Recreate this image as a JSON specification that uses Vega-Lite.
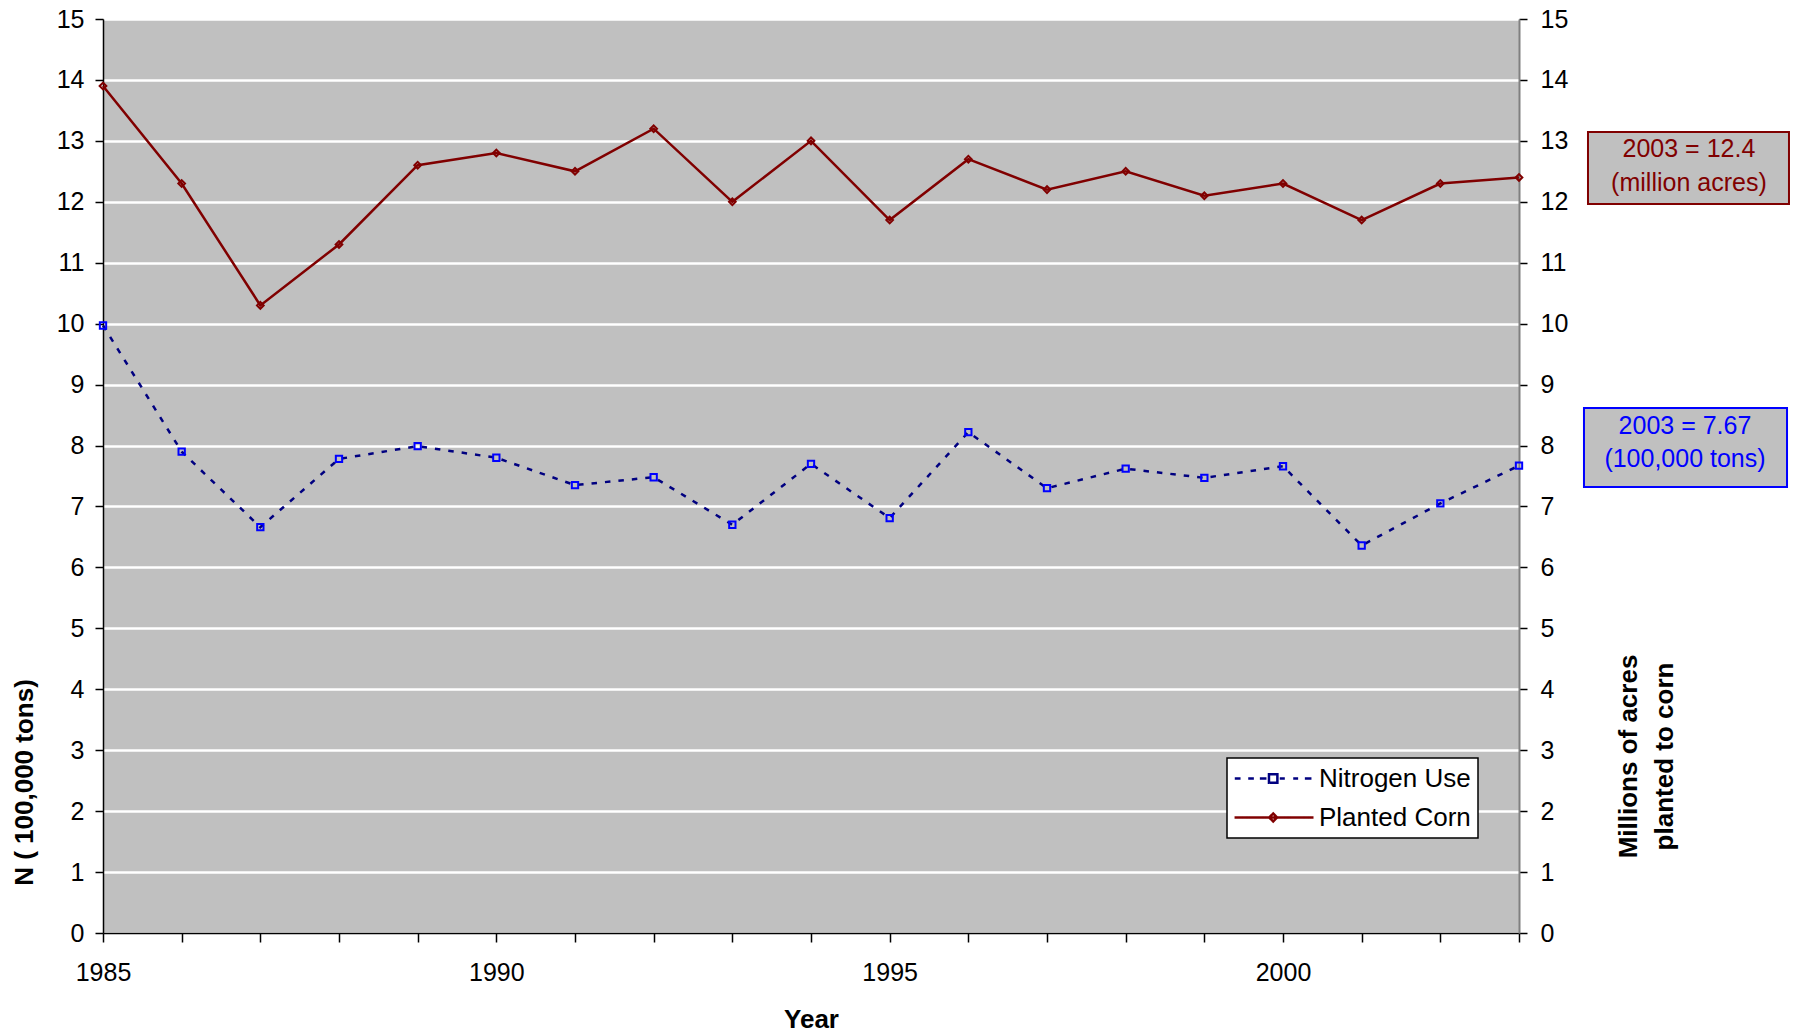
{
  "$schema": "https://vega.github.io/schema/vega-lite/v6.json",
  "width": 1416,
  "height": 914,
  "autosize": "none",
  "padding": {"left": 103, "top": 19, "right": 278, "bottom": 99},
  "background": "white",
  "config": {
    "font": "Liberation Sans",
    "view": {"fill": "#C0C0C0", "stroke": null}
  },
  "datasets": {
    "main": [
      {"year": 1985, "series": "Nitrogen Use", "value": 9.97},
      {"year": 1986, "series": "Nitrogen Use", "value": 7.9},
      {"year": 1987, "series": "Nitrogen Use", "value": 6.66},
      {"year": 1988, "series": "Nitrogen Use", "value": 7.78},
      {"year": 1989, "series": "Nitrogen Use", "value": 7.99},
      {"year": 1990, "series": "Nitrogen Use", "value": 7.8},
      {"year": 1991, "series": "Nitrogen Use", "value": 7.35},
      {"year": 1992, "series": "Nitrogen Use", "value": 7.48},
      {"year": 1993, "series": "Nitrogen Use", "value": 6.7},
      {"year": 1994, "series": "Nitrogen Use", "value": 7.7},
      {"year": 1995, "series": "Nitrogen Use", "value": 6.81},
      {"year": 1996, "series": "Nitrogen Use", "value": 8.22},
      {"year": 1997, "series": "Nitrogen Use", "value": 7.3},
      {"year": 1998, "series": "Nitrogen Use", "value": 7.62},
      {"year": 1999, "series": "Nitrogen Use", "value": 7.47},
      {"year": 2000, "series": "Nitrogen Use", "value": 7.66},
      {"year": 2001, "series": "Nitrogen Use", "value": 6.36},
      {"year": 2002, "series": "Nitrogen Use", "value": 7.05},
      {"year": 2003, "series": "Nitrogen Use", "value": 7.67},
      {"year": 1985, "series": "Planted Corn", "value": 13.9},
      {"year": 1986, "series": "Planted Corn", "value": 12.3},
      {"year": 1987, "series": "Planted Corn", "value": 10.3},
      {"year": 1988, "series": "Planted Corn", "value": 11.3},
      {"year": 1989, "series": "Planted Corn", "value": 12.6},
      {"year": 1990, "series": "Planted Corn", "value": 12.8},
      {"year": 1991, "series": "Planted Corn", "value": 12.5},
      {"year": 1992, "series": "Planted Corn", "value": 13.2},
      {"year": 1993, "series": "Planted Corn", "value": 12.0},
      {"year": 1994, "series": "Planted Corn", "value": 13.0},
      {"year": 1995, "series": "Planted Corn", "value": 11.7},
      {"year": 1996, "series": "Planted Corn", "value": 12.7},
      {"year": 1997, "series": "Planted Corn", "value": 12.2},
      {"year": 1998, "series": "Planted Corn", "value": 12.5},
      {"year": 1999, "series": "Planted Corn", "value": 12.1},
      {"year": 2000, "series": "Planted Corn", "value": 12.3},
      {"year": 2001, "series": "Planted Corn", "value": 11.7},
      {"year": 2002, "series": "Planted Corn", "value": 12.3},
      {"year": 2003, "series": "Planted Corn", "value": 12.4}
    ],
    "cornNote": [
      {"year": 2003.877, "year_end": 2006.432, "value": 13.145, "value_end": 11.964}
    ],
    "cornNoteText": [
      {"year": 2005.16, "value": 12.866, "label": "2003 = 12.4\n(million acres)"}
    ],
    "nitroNote": [
      {"year": 2003.826, "year_end": 2006.407, "value": 8.616, "value_end": 7.319}
    ],
    "nitroNoteText": [
      {"year": 2005.11, "value": 8.32, "label": "2003 = 7.67\n(100,000 tons)"}
    ]
  },
  "encoding": {
    "x": {
      "field": "year",
      "type": "quantitative",
      "scale": {"domain": [1985, 2003], "nice": false, "zero": false},
      "axis": {
        "title": "Year",
        "values": [1985, 1986, 1987, 1988, 1989, 1990, 1991, 1992, 1993, 1994, 1995, 1996, 1997, 1998, 1999, 2000, 2001, 2002, 2003],
        "format": "d",
        "labelExpr": "datum.value % 5 === 0 ? datum.label : ''",
        "labelOverlap": false,
        "labelFlush": false,
        "labelFontSize": 25,
        "labelColor": "black",
        "labelPadding": 18,
        "tickSize": 9,
        "tickColor": "black",
        "tickWidth": 1.5,
        "domainColor": "black",
        "domainWidth": 1.5,
        "grid": false,
        "titleFontSize": 26,
        "titleFontWeight": "bold",
        "titleColor": "black",
        "titleX": 708,
        "titleY": 94,
        "titleAlign": "center",
        "titleBaseline": "alphabetic"
      }
    }
  },
  "layer": [
    {
      "encoding": {
        "y": {
          "field": "value",
          "type": "quantitative",
          "scale": {"domain": [0, 15], "nice": false, "zero": true},
          "axis": {
            "orient": "left",
            "title": "N ( 100,000 tons)",
            "values": [0, 1, 2, 3, 4, 5, 6, 7, 8, 9, 10, 11, 12, 13, 14, 15],
            "grid": true,
            "gridColor": "white",
            "gridWidth": 2.5,
            "gridOpacity": 1,
            "domainColor": "black",
            "domainWidth": 1.5,
            "tickColor": "black",
            "tickSize": 8,
            "tickWidth": 1.5,
            "labelFontSize": 25,
            "labelColor": "black",
            "labelPadding": 11,
            "titleFontSize": 26,
            "titleFontWeight": "bold",
            "titleColor": "black",
            "titleAngle": -90,
            "titleX": -79,
            "titleY": 763,
            "titleAlign": "center",
            "titleBaseline": "middle"
          }
        }
      },
      "layer": [
        {
          "data": {"name": "main"},
          "transform": [{"filter": "datum.series === 'Nitrogen Use'"}],
          "mark": {"type": "line", "strokeWidth": 2.5, "strokeDash": [5.5, 8]},
          "encoding": {
            "color": {
              "field": "series",
              "type": "nominal",
              "scale": {"domain": ["Nitrogen Use", "Planted Corn"], "range": ["#000080", "#800000"]},
              "legend": {
                "title": null,
                "orient": "none",
                "legendX": 1124,
                "legendY": 739,
                "fillColor": "white",
                "strokeColor": "black",
                "padding": 7,
                "rowPadding": 12,
                "symbolSize": 576,
                "symbolStrokeWidth": 2.5,
                "labelFontSize": 26,
                "labelColor": "black",
                "labelOffset": 58,
                "labelLimit": 400,
                "encode": {
                  "legend": {
                    "update": {
                      "strokeWidth": {"value": 1.5}
                    }
                  },
                  "symbols": {
                    "update": {
                      "shape": {"signal": "datum.value === 'Nitrogen Use' ? 'M-1.06,0H-0.58M0.06,0H0.53M1.03,0H1.58M2.69,0H3.11M3.81,0H4.22M4.78,0H5.33M1.79,-0.35H2.49V0.35H1.79Z' : 'M-1.08,0H5.5M2.14,-0.33L2.47,0L2.14,0.33L1.81,0Z'"},
                      "strokeDash": {"value": [1, 0]},
                      "fill": {"value": "transparent"},
                      "strokeWidth": {"value": 2.5},
                      "opacity": {"value": 1}
                    }
                  }
                }
              }
            }
          }
        },
        {
          "data": {"name": "main"},
          "transform": [{"filter": "datum.series === 'Nitrogen Use'"}],
          "mark": {"type": "point", "shape": "square", "filled": false, "color": "#0000FF", "strokeWidth": 2, "size": 40, "opacity": 1}
        },
        {
          "data": {"name": "nitroNote"},
          "mark": {"type": "rect", "fill": "#C0C0C0", "stroke": "#0000FF", "strokeWidth": 2},
          "encoding": {
            "x2": {"field": "year_end"},
            "y2": {"field": "value_end"}
          }
        },
        {
          "data": {"name": "nitroNoteText"},
          "mark": {"type": "text", "color": "#0000FF", "fontSize": 25, "lineBreak": "\n", "lineHeight": 33, "align": "center", "baseline": "middle"},
          "encoding": {
            "text": {"field": "label"}
          }
        }
      ]
    },
    {
      "encoding": {
        "y": {
          "field": "value",
          "type": "quantitative",
          "scale": {"domain": [0, 15], "nice": false, "zero": true},
          "axis": {
            "orient": "right",
            "title": ["Millions of acres", "planted to corn"],
            "values": [0, 1, 2, 3, 4, 5, 6, 7, 8, 9, 10, 11, 12, 13, 14, 15],
            "grid": false,
            "domainColor": "#808080",
            "domainWidth": 2,
            "tickColor": "black",
            "tickSize": 8,
            "tickWidth": 1.5,
            "labelFontSize": 25,
            "labelColor": "black",
            "labelPadding": 13,
            "titleFontSize": 26,
            "titleFontWeight": "bold",
            "titleColor": "black",
            "titleAngle": -90,
            "titleX": 109,
            "titleY": 737,
            "titleAlign": "center",
            "titleBaseline": "middle",
            "titleLineHeight": 36
          }
        }
      },
      "layer": [
        {
          "data": {"name": "main"},
          "transform": [{"filter": "datum.series === 'Planted Corn'"}],
          "mark": {"type": "line", "strokeWidth": 2.5},
          "encoding": {
            "color": {
              "field": "series",
              "type": "nominal",
              "scale": {"domain": ["Nitrogen Use", "Planted Corn"], "range": ["#000080", "#800000"]}
            }
          }
        },
        {
          "data": {"name": "main"},
          "transform": [{"filter": "datum.series === 'Planted Corn'"}],
          "mark": {"type": "point", "shape": "diamond", "filled": false, "color": "#800000", "strokeWidth": 2, "size": 45, "opacity": 1}
        },
        {
          "data": {"name": "cornNote"},
          "mark": {"type": "rect", "fill": "#C0C0C0", "stroke": "#800000", "strokeWidth": 2},
          "encoding": {
            "x2": {"field": "year_end"},
            "y2": {"field": "value_end"}
          }
        },
        {
          "data": {"name": "cornNoteText"},
          "mark": {"type": "text", "color": "#800000", "fontSize": 25, "lineBreak": "\n", "lineHeight": 34, "align": "center", "baseline": "middle"},
          "encoding": {
            "text": {"field": "label"}
          }
        }
      ]
    }
  ],
  "resolve": {"scale": {"y": "independent"}}
}
